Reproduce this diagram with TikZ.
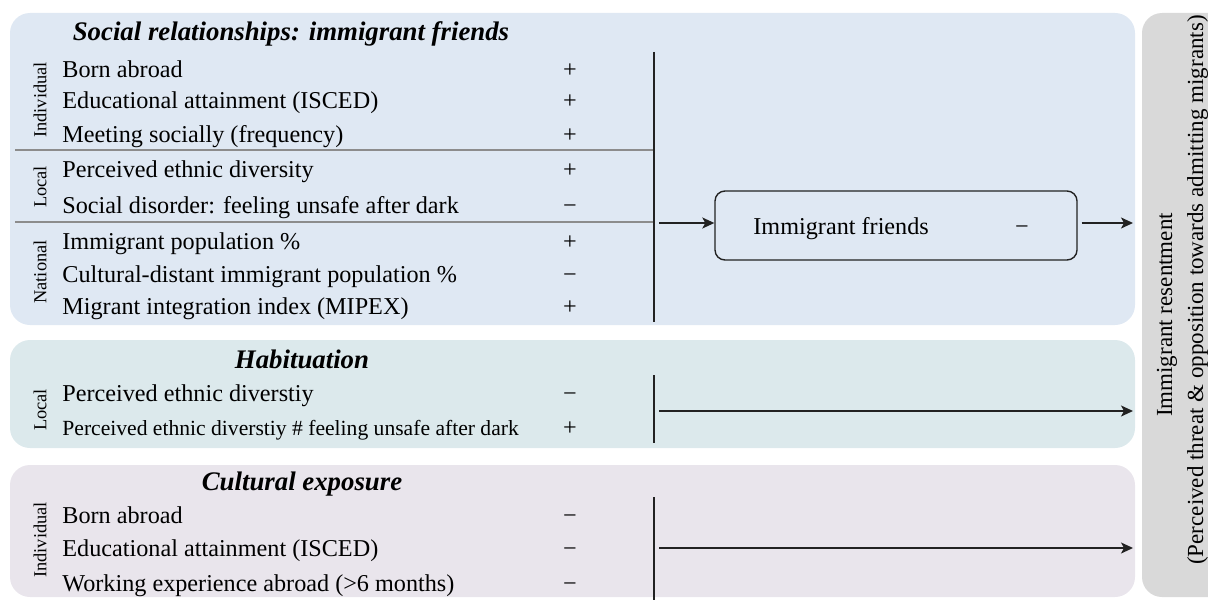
\documentclass[tikz,border=0pt]{standalone}
\usepackage{fontspec}
\setmainfont{Liberation Serif}
\usetikzlibrary{arrows.meta}
\definecolor{pblue}{HTML}{DFE8F3}
\definecolor{pteal}{HTML}{DCE9EC}
\definecolor{plav}{HTML}{E9E5EC}
\definecolor{pgray}{HTML}{D9D9D9}
\definecolor{lnk}{HTML}{222222}
\tikzset{
  panel/.style={rounded corners=10pt},
  item/.style={anchor=base west,inner sep=0pt,font=\fontsize{12.1pt}{14pt}\selectfont},
  smallitem/.style={anchor=base west,inner sep=0pt,font=\fontsize{10.8pt}{12pt}\selectfont},
  sign/.style={anchor=base,inner sep=0pt,font=\fontsize{12.1pt}{14pt}\selectfont},
  ttl/.style={anchor=base,inner sep=0pt,font=\fontsize{13.4pt}{15pt}\selectfont\bfseries\itshape},
  lvl/.style={rotate=90,inner sep=0pt,font=\fontsize{9.2pt}{10pt}\selectfont},
  bar/.style={line width=0.75pt,draw=lnk},
  sep/.style={line width=0.6pt,draw=black!45},
  arr/.style={line width=0.8pt,draw=lnk,-{Stealth[length=6pt,width=5.5pt,inset=1.5pt]}},
  medbox/.style={draw=lnk,line width=0.7pt,rounded corners=5pt,minimum width=181pt,minimum height=34.5pt,inner sep=0pt},
  vtxt/.style={rotate=90,anchor=base,inner sep=0pt,font=\fontsize{11.5pt}{14pt}\selectfont}
}
\begin{document}
\begin{tikzpicture}[x=0.5pt,y=-0.5pt]
\useasboundingbox (0,0) rectangle (1208,599);
\clip (0,0) rectangle (1208,599);
% panels
\fill[pblue,panel] (10,13) rectangle (1135,325);
\fill[pteal,panel] (10,340) rectangle (1135,448);
\fill[plav,panel] (10,465) rectangle (1135,597);
\fill[pgray,panel] (1142,13) rectangle (1240,597);

% ---------- Panel 1 ----------
\node[ttl] (t1) at (291,41) {Social relationships: immigrant friends};
\node[lvl] (l1a) at (40,100) {Individual};
\node[lvl] (l1b) at (40,187) {Local};
\node[lvl] (l1c) at (40,272) {National};
\draw[sep] (15,150) -- (654,150);
\draw[sep] (15,222) -- (654,222);
\node[item] (r1) at (62,77) {Born abroad};
\node[item] (r2) at (62,109) {Educational attainment (ISCED)};
\node[item] (r3) at (62,142) {Meeting socially (frequency)};
\node[item] (r4) at (62,177) {Perceived ethnic diversity};
\node[item] (r5) at (62,213) {Social disorder: feeling unsafe after dark};
\node[item] (r6) at (62,249) {Immigrant population \%};
\node[item] (r7) at (62,282) {Cultural-distant immigrant population \%};
\node[item] (r8) at (62,314) {Migrant integration index (MIPEX)};
\node[sign] (s1) at (570,77) {+};
\node[sign] (s2) at (570,109) {+};
\node[sign] (s3) at (570,142) {+};
\node[sign] (s4) at (570,177) {+};
\node[sign] (s5) at (570,213) {−};
\node[sign] (s6) at (570,249) {+};
\node[sign] (s7) at (570,282) {−};
\node[sign] (s8) at (570,314) {+};
\coordinate (b1t) at (654,52);
\coordinate (b1b) at (654,322);
\draw[bar] (b1t) -- (b1b);
\node[medbox] (friends) at (896,225.5) {};
\node[item] (ftxt) at (753,234) {Immigrant friends};
\node[sign] (fsgn) at (1022,234) {−};
\coordinate (in1) at (659,223);
\coordinate (out1) at (1133,223);
\draw[arr] (in1) -- (friends.west |- in1);
\draw[arr,shorten <=2pt] (friends.east |- out1) -- (out1);

% ---------- Panel 2 ----------
\node[ttl] (t2) at (302,368) {Habituation};
\node[lvl] (l2a) at (40,410) {Local};
\node[item] (h1) at (62,401) {Perceived ethnic diverstiy};
\node[smallitem] (h2) at (62,435) {Perceived ethnic diverstiy \# feeling unsafe after dark};
\node[sign] (hs1) at (570,401) {−};
\node[sign] (hs2) at (570,435) {+};
\coordinate (b2t) at (654,375);
\coordinate (b2b) at (654,443);
\draw[bar] (b2t) -- (b2b);
\coordinate (in2) at (659,411);
\coordinate (out2) at (1133,411);
\draw[arr] (in2) -- (out2);

% ---------- Panel 3 ----------
\node[ttl] (t3) at (302,490) {Cultural exposure};
\node[lvl] (l3a) at (40,540) {Individual};
\node[item] (c1) at (62,523) {Born abroad};
\node[item] (c2) at (62,556) {Educational attainment (ISCED)};
\node[item] (c3) at (62,591) {Working experience abroad (>6 months)};
\node[sign] (cs1) at (570,523) {−};
\node[sign] (cs2) at (570,556) {−};
\node[sign] (cs3) at (570,591) {−};
\coordinate (b3t) at (654,497);
\coordinate (b3b) at (654,605);
\draw[bar] (b3t) -- (b3b);
\coordinate (in3) at (659,548);
\coordinate (out3) at (1133,548);
\draw[arr] (in3) -- (out3);

% ---------- Outcome ----------
\node[vtxt] (o1) at (1172,315) {Immigrant resentment};
\node[vtxt] (o2) at (1203,290) {(Perceived threat \& opposition towards admitting migrants)};
\end{tikzpicture}
\end{document}
